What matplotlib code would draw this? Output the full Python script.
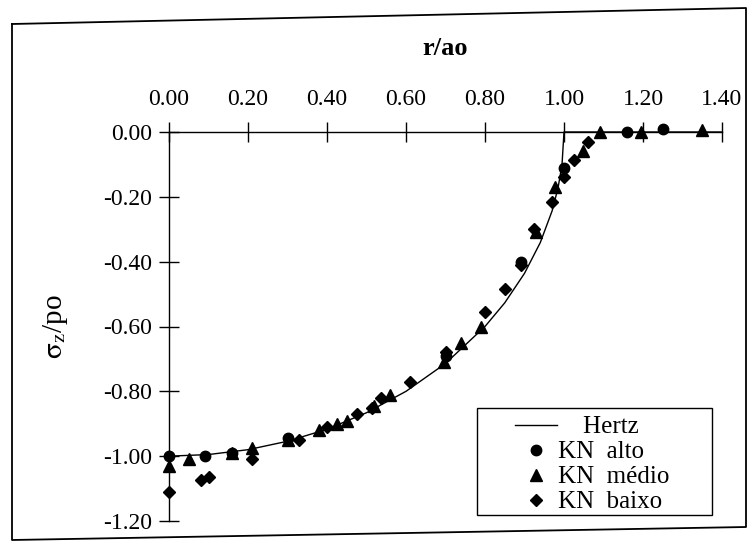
import matplotlib
matplotlib.use('Agg')
import matplotlib.pyplot as plt
from matplotlib.lines import Line2D
from matplotlib.patches import Rectangle

plt.rcParams['font.family'] = ['Liberation Serif', 'DejaVu Serif']
plt.rcParams['mathtext.fontset'] = 'stix'

# Hertz theoretical curve
hertz_r = [0.0, 0.1, 0.2, 0.3, 0.4, 0.5, 0.6, 0.7, 0.8, 0.85, 0.9, 0.94, 0.97, 0.985, 0.995, 1.0, 1.4]
hertz_s = [-1.0, -0.995, -0.98, -0.954, -0.917, -0.866, -0.8, -0.714, -0.6, -0.527, -0.436, -0.341,
           -0.243, -0.172, -0.1, 0.0, 0.0]

# KN alto (circles)
alto_r = [0.00, 0.09, 0.16, 0.30, 0.70, 0.89, 1.00, 1.16, 1.25]
alto_s = [-1.00, -1.00, -0.99, -0.945, -0.69, -0.40, -0.11, 0.00, 0.01]

# KN medio (triangles)
medio_r = [0.00, 0.05, 0.16, 0.21, 0.30, 0.38, 0.425, 0.45, 0.52, 0.56, 0.695, 0.74, 0.79,
           0.93, 0.977, 1.047, 1.09, 1.195, 1.35]
medio_s = [-1.03, -1.01, -0.99, -0.975, -0.95, -0.92, -0.90, -0.89, -0.845, -0.81, -0.71, -0.65, -0.60,
           -0.31, -0.17, -0.06, 0.00, 0.00, 0.005]

# KN baixo (diamonds)
baixo_r = [0.00, 0.08, 0.10, 0.21, 0.33, 0.40, 0.475, 0.515, 0.537, 0.61, 0.70, 0.80, 0.85,
           0.89, 0.925, 0.97, 1.00, 1.026, 1.06]
baixo_s = [-1.11, -1.075, -1.065, -1.01, -0.95, -0.91, -0.87, -0.85, -0.82, -0.77, -0.68, -0.555, -0.485,
           -0.41, -0.30, -0.215, -0.14, -0.085, -0.03]

x_ticks = [0.0, 0.2, 0.4, 0.6, 0.8, 1.0, 1.2, 1.4]
x_labels = ['0.00', '0.20', '0.40', '0.60', '0.80', '1.00', '1.20', '1.40']
y_ticks = [0.0, -0.2, -0.4, -0.6, -0.8, -1.0, -1.2]
y_labels = ['0.00', '-0.20', '-0.40', '-0.60', '-0.80', '-1.00', '-1.20']

fig = plt.figure(figsize=(7.48, 5.54), dpi=100)

# outer frame of the scanned chart (slightly tilted)
W, H = 748.0, 554.0
frame_x = [12 / W, 746 / W, 746 / W, 12 / W, 12 / W]
frame_y = [1 - 24 / H, 1 - 8 / H, 1 - 527 / H, 1 - 540 / H, 1 - 24 / H]
fig.add_artist(Line2D(frame_x, frame_y, transform=fig.transFigure, color='black', lw=1.3))

ax = fig.add_axes([169 / W, (H - 521) / H, (722 - 169) / W, (521 - 132) / H])

ax.plot(hertz_r, hertz_s, color='black', lw=1.0, label='    Hertz', clip_on=False)
ax.plot(alto_r, alto_s, 'o', color='black', ms=7.5, label='KN  alto', clip_on=False)
ax.plot(medio_r, medio_s, '^', color='black', ms=8, label='KN  médio', clip_on=False)
ax.plot(baixo_r, baixo_s, 'D', color='black', ms=6.2, label='KN  baixo', clip_on=False)

ax.set_xlim(0, 1.4)
ax.set_ylim(-1.2, 0)

ax.spines['right'].set_visible(False)
ax.spines['bottom'].set_visible(False)
ax.spines['left'].set_linewidth(1.0)
ax.spines['top'].set_linewidth(1.0)

ax.xaxis.tick_top()
ax.xaxis.set_label_position('top')
ax.set_xticks(x_ticks)
ax.set_xticklabels(x_labels)
ax.set_yticks(y_ticks)
ax.set_yticklabels(y_labels)
ax.tick_params(axis='both', direction='inout', length=14, width=1.0, labelsize=17)
ax.tick_params(axis='x', pad=9)
ax.tick_params(axis='y', pad=5)

ax.set_xlabel('r/ao', fontsize=19, fontweight='bold', labelpad=24)
ax.set_ylabel(r'$\mathrm{\sigma}_{\mathrm{z}}$/po', fontsize=21, labelpad=24)

# legend box drawn separately so it can be wider than its contents
ax.add_patch(Rectangle((0.557, 0.015), 0.425, 0.275, transform=ax.transAxes,
                       facecolor='white', edgecolor='black', lw=1.0, zorder=4))
leg = ax.legend(loc='upper left', bbox_to_anchor=(0.625, 0.27), borderaxespad=0,
                fontsize=18, frameon=False, handlelength=1.7, handletextpad=0.05,
                labelspacing=0.1, borderpad=0)
leg.set_zorder(5)

fig.savefig('out.png', dpi=100)
